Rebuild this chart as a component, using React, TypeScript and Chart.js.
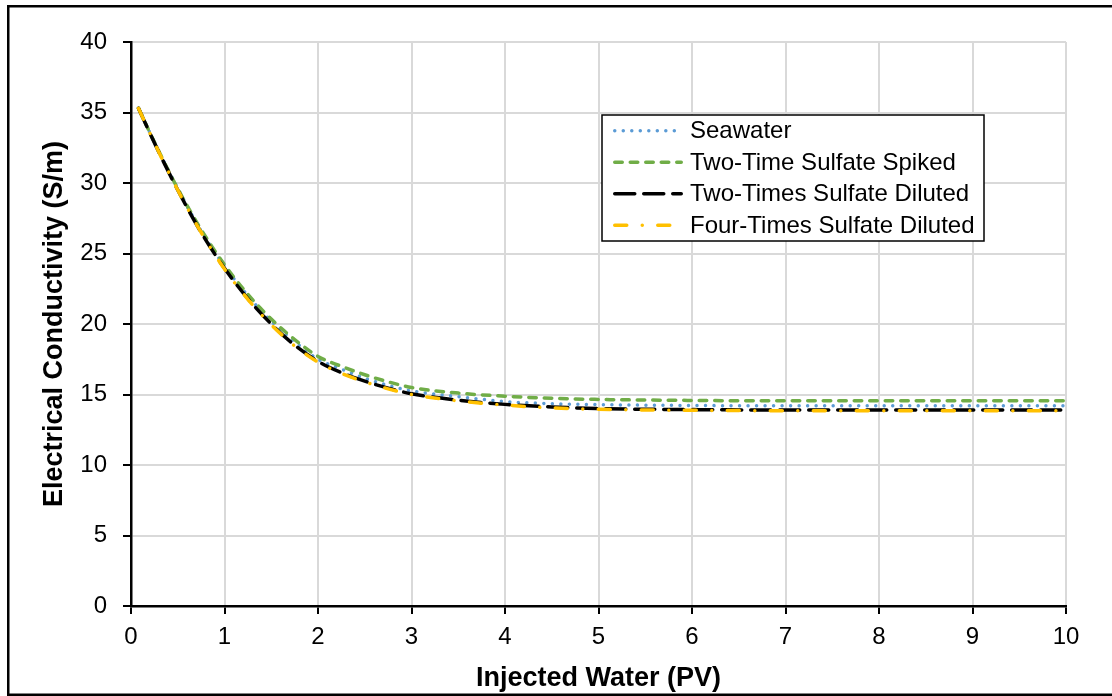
import React, { useEffect, useRef } from "react";
import { Chart, registerables } from "chart.js";

Chart.register(...registerables);

const X_VALUES = [0.08, 0.25, 0.5, 0.75, 1.0, 1.25, 1.5, 1.75, 2.0, 2.25, 2.5, 2.75, 3.0, 3.5, 4.0, 4.5, 5.0, 6.0, 7.0, 8.0, 9.0, 10.0];
const SEAWATER = [35.3, 32.9, 29.6, 26.6, 24.1, 22.0, 20.2, 18.75, 17.5, 16.8, 16.15, 15.65, 15.25, 14.85, 14.5, 14.35, 14.28, 14.22, 14.2, 14.2, 14.2, 14.2];
const SPIKED = [35.3, 32.9, 29.6, 26.7, 24.2, 22.1, 20.35, 18.9, 17.7, 17.0, 16.4, 15.9, 15.5, 15.1, 14.88, 14.73, 14.65, 14.58, 14.55, 14.55, 14.55, 14.55];
const DILUTED_2X = [35.3, 32.85, 29.5, 26.5, 23.95, 21.8, 20.0, 18.5, 17.35, 16.55, 15.95, 15.45, 15.05, 14.6, 14.3, 14.12, 14.0, 13.93, 13.9, 13.9, 13.9, 13.9];
const DILUTED_4X = [35.3, 32.85, 29.5, 26.5, 23.9, 21.75, 19.95, 18.45, 17.3, 16.5, 15.9, 15.4, 15.0, 14.55, 14.25, 14.05, 13.95, 13.88, 13.85, 13.85, 13.85, 13.85];

const SERIES_NAMES = ["Seawater", "Two-Time Sulfate Spiked", "Two-Times Sulfate Diluted", "Four-Times Sulfate Diluted"];
const SERIES_VALUES = [SEAWATER, SPIKED, DILUTED_2X, DILUTED_4X];
const SERIES_COLORS = ["#5b9bd5", "#70ad47", "#000000", "#ffc000"];
const SERIES_DASHES = [[0.01, 8.5], [7.5, 8], [20, 9], [12, 15.5, 0.01, 15.5]];

const X_TITLE = "Injected Water (PV)";
const Y_TITLE = "Electrical Conductivity (S/m)";
const FONT = "'Liberation Sans', Arial, sans-serif";

const legendPlugin = {
  id: "customLegend",
  afterDraw(chart: any) {
    const ctx = chart.ctx;
    ctx.save();
    // outer frame
    ctx.strokeStyle = "#000";
    ctx.lineWidth = 2.5;
    ctx.strokeRect(8.25, 6.25, 1200, 688.5);
    // legend box
    const bx = 602, by = 115, bw = 382, bh = 126;
    ctx.fillStyle = "#fff";
    ctx.fillRect(bx, by, bw, bh);
    ctx.lineWidth = 1.5;
    ctx.strokeStyle = "#000";
    ctx.strokeRect(bx, by, bw, bh);
    ctx.font = `24px ${FONT}`;
    ctx.textBaseline = "middle";
    ctx.textAlign = "left";
    SERIES_NAMES.forEach((name, i) => {
      const y = 130.7 + i * 31.5;
      ctx.beginPath();
      ctx.lineWidth = 3.5;
      ctx.lineCap = "round";
      ctx.strokeStyle = SERIES_COLORS[i];
      ctx.setLineDash(SERIES_DASHES[i]);
      ctx.moveTo(614.75, y);
      ctx.lineTo(681.25, y);
      ctx.stroke();
      ctx.setLineDash([]);
      ctx.fillStyle = "#000";
      ctx.fillText(name, 690, y + 1);
    });
    ctx.restore();
  },
};

export default function App() {
  const ref = useRef<HTMLCanvasElement | null>(null);
  useEffect(() => {
    if (!ref.current) return;
    const datasets = SERIES_NAMES.map((name, i) => ({
      label: name,
      data: X_VALUES.map((x, j) => ({ x, y: SERIES_VALUES[i][j] })),
      borderColor: SERIES_COLORS[i],
      backgroundColor: SERIES_COLORS[i],
      borderWidth: 3.5,
      borderDash: SERIES_DASHES[i],
      borderCapStyle: "round" as const,
      pointRadius: 0,
      fill: false,
      cubicInterpolationMode: "monotone" as const,
      order: 4 - i,
    }));
    const chart = new Chart(ref.current, {
      type: "line",
      data: { datasets },
      plugins: [legendPlugin],
      options: {
        animation: false,
        responsive: false,
        devicePixelRatio: 1,
        layout: { padding: { left: 8, top: 42, right: 46, bottom: 0 } },
        plugins: { legend: { display: false }, tooltip: { enabled: false } },
        scales: {
          x: {
            type: "linear",
            min: 0,
            max: 10,
            afterFit: (s: any) => { s.height = 90; },
            ticks: { stepSize: 1, color: "#000", font: { family: FONT, size: 24 }, padding: 9, maxRotation: 0 },
            grid: { color: "#d9d9d9", lineWidth: 2, tickColor: "#000", tickLength: 8, tickWidth: 2 },
            border: { display: true, color: "#000", width: 2.5 },
            title: { display: true, text: X_TITLE, color: "#000", font: { family: FONT, size: 27, weight: "bold" }, padding: { top: 0, bottom: 1 } },
          },
          y: {
            type: "linear",
            min: 0,
            max: 40,
            afterFit: (s: any) => { s.width = 123; },
            ticks: { stepSize: 5, color: "#000", font: { family: FONT, size: 24 }, padding: 16 },
            grid: { color: "#d9d9d9", lineWidth: 2, tickColor: "#000", tickLength: 8, tickWidth: 2 },
            border: { display: true, color: "#000", width: 2.5 },
            title: { display: true, text: Y_TITLE, color: "#000", font: { family: FONT, size: 27, weight: "bold" }, padding: { top: 30, bottom: 0 } },
          },
        },
      },
    });
    return () => chart.destroy();
  }, []);
  return (
    <div style={{ position: "absolute", left: 0, top: 0, width: 1112, height: 696, background: "#fff" }}>
      <canvas ref={ref} width={1112} height={696} style={{ display: "block" }} />
    </div>
  );
}
